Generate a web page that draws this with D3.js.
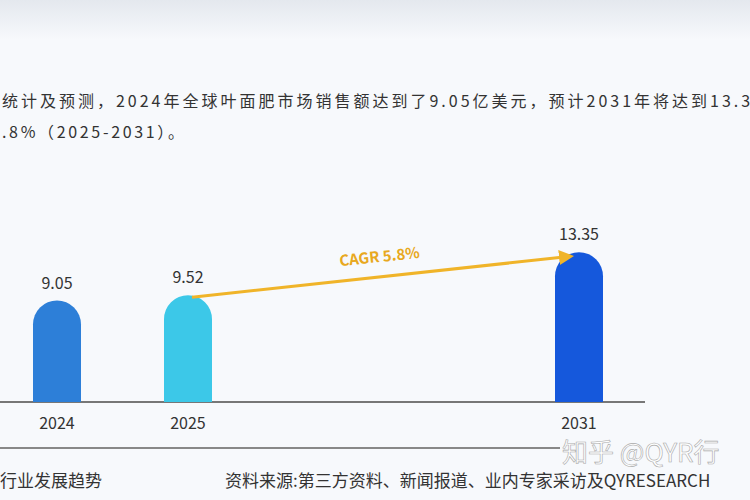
<!DOCTYPE html>
<html>
<head>
<meta charset="utf-8">
<script src="https://d3js.org/d3.v7.min.js"></script>
<style>
  body { margin: 0; background: #f7f9fc; }
  svg { display: block; font-family: "Noto Sans CJK SC", "Noto Sans", sans-serif; }
</style>
</head>
<body>
<div id="chart"></div>
<script>
  // values in 亿美元
  var years = ["2024", "2025", "2031"];
  var values = [9.05, 9.52, 13.35];
  var colors = ["#2d7fd8", "#3cc8e8", "#1558dc"];
  var cagrLabel = "CAGR 5.8%";
  var introLines = ["统计及预测，2024年全球叶面肥市场销售额达到了9.05亿美元，预计2031年将达到13.35",
                    ".8%（2025-2031）。"];

  var svg = d3.select("#chart").append("svg").attr("width", 750).attr("height", 500);
  var defs = svg.append("defs");

  var grad = defs.append("linearGradient").attr("id", "topfade")
    .attr("x1", 0).attr("y1", 0).attr("x2", 0).attr("y2", 1);
  grad.append("stop").attr("offset", 0).attr("stop-color", "#e4e8ee");
  grad.append("stop").attr("offset", 1).attr("stop-color", "#f7f9fc");
  svg.append("rect").attr("width", 750).attr("height", 40).attr("fill", "url(#topfade)");

  svg.selectAll(".intro").data(introLines).enter().append("text")
    .attr("x", 2).attr("y", function(d, i) { return 107 + i * 31; })
    .attr("font-size", 16).attr("fill", "#333")
    .attr("textLength", function(d, i) { return i === 0 ? 760 : 182; })
    .text(function(d) { return d; });

  var x = d3.scaleLinear().domain([2024, 2031]).range([57, 579]);
  var y = d3.scaleLinear().domain([0, 14]).range([402, 245]);
  var bw = 48, r = bw / 2;
  // 2025 sits a bit right of its linear spot in the original
  function cx(yr) { return yr === "2025" ? 188 : x(+yr); }

  svg.append("line").attr("x1", 0).attr("x2", 645).attr("y1", 402).attr("y2", 402)
    .attr("stroke", "#777").attr("stroke-width", 2);

  years.forEach(function(yr, i) {
    var c = cx(yr), top = y(values[i]);
    svg.append("path")
      .attr("d", "M" + (c - r) + ",402V" + (top + r) +
        "A" + r + "," + r + " 0 0 1 " + (c + r) + "," + (top + r) + "V402Z")
      .attr("fill", colors[i]);
    svg.append("text").attr("x", c).attr("y", top - 12).attr("text-anchor", "middle")
      .attr("font-size", 16).attr("fill", "#333").text(values[i].toFixed(2));
    svg.append("text").attr("x", c).attr("y", 429).attr("text-anchor", "middle")
      .attr("font-size", 16).attr("fill", "#333").text(yr);
  });

  var p1 = [cx("2025") + 4, y(values[1]) + 2], p2 = [cx("2031") - 8, y(values[2]) + 4];
  defs.append("marker").attr("id", "ah").attr("viewBox", "0 0 10 10")
    .attr("refX", 8).attr("refY", 5).attr("markerWidth", 5).attr("markerHeight", 5).attr("orient", "auto")
    .append("path").attr("d", "M0,0L10,5L0,10Z").attr("fill", "#f0b429");
  svg.append("line").attr("x1", p1[0]).attr("y1", p1[1]).attr("x2", p2[0]).attr("y2", p2[1])
    .attr("stroke", "#f0b429").attr("stroke-width", 3).attr("marker-end", "url(#ah)");
  var ang = Math.atan2(p2[1] - p1[1], p2[0] - p1[0]) * 180 / Math.PI;
  svg.append("text").attr("transform", "translate(380,262) rotate(" + ang + ")")
    .attr("text-anchor", "middle").attr("font-size", 15).attr("font-weight", "bold")
    .attr("fill", "#e8a820").text(cagrLabel);

  svg.append("line").attr("x1", 0).attr("x2", 560).attr("y1", 448).attr("y2", 448)
    .attr("stroke", "#888").attr("stroke-width", 2);
  svg.append("text").attr("x", 0).attr("y", 487).attr("font-size", 17).attr("fill", "#333").text("行业发展趋势");
  svg.append("text").attr("x", 225).attr("y", 487).attr("font-size", 17).attr("fill", "#333")
    .text("资料来源:第三方资料、新闻报道、业内专家采访及QYRESEARCH");
  svg.append("text").attr("x", 562).attr("y", 462).attr("font-size", 26).attr("fill", "#fff")
    .attr("stroke", "#aaa").attr("stroke-width", 0.6).text("知乎 @QYR行");
</script>
</body>
</html>
